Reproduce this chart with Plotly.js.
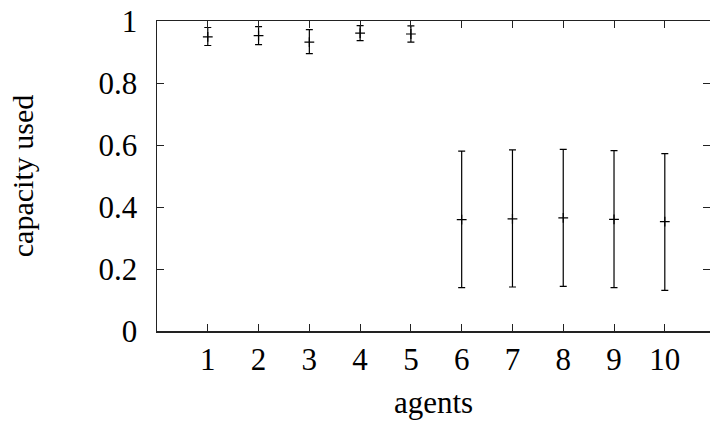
<!DOCTYPE html>
<html>
<head>
<meta charset="utf-8">
<script src="https://cdn.plot.ly/plotly-3.0.1.min.js"></script>
<style>html,body{margin:0;padding:0;background:#fff;}#chart{width:710px;height:422px;}</style>
</head>
<body>
<div id="chart"></div>
<script>
var agents = [1, 2, 3, 4, 5, 6, 7, 8, 9, 10];
var meanUsed = [0.949, 0.953, 0.932, 0.961, 0.958, 0.359, 0.362, 0.365, 0.360, 0.353];
var errUpper = [0.030, 0.029, 0.040, 0.024, 0.026, 0.221, 0.222, 0.221, 0.222, 0.219];
var errLower = [0.028, 0.029, 0.037, 0.024, 0.026, 0.219, 0.220, 0.221, 0.220, 0.222];
var xTicks = [1, 2, 3, 4, 5, 6, 7, 8, 9, 10];
var yTicks = [0, 0.2, 0.4, 0.6, 0.8, 1];

var trace = {
  x: agents,
  y: meanUsed,
  type: 'scatter',
  mode: 'markers',
  marker: {symbol: 'cross-thin', size: 7, color: '#000', line: {color: '#000', width: 1.2}},
  error_y: {type: 'data', symmetric: false, array: errUpper, arrayminus: errLower,
            color: '#000', thickness: 1.2, width: 3.5},
  showlegend: false,
  hoverinfo: 'skip'
};

var fontFam = '"Liberation Serif", "DejaVu Serif", serif';
var layout = {
  width: 710, height: 422,
  margin: {l: 157, r: 0, t: 21, b: 91},
  paper_bgcolor: '#fff', plot_bgcolor: '#fff',
  font: {family: fontFam, size: 31, color: '#000'},
  xaxis: {
    range: [0, 10.89],
    tickvals: xTicks,
    ticktext: xTicks.map(String),
    ticks: 'inside', ticklen: 7, tickwidth: 1, tickcolor: '#222',
    showline: true, linecolor: '#222', linewidth: 1.5, mirror: 'ticks',
    showgrid: false, zeroline: false,
    ticklabelstandoff: 0,
    tickfont: {family: fontFam, size: 31, color: '#000'},
    title: {text: 'agents', font: {family: fontFam, size: 31, color: '#000'}, standoff: 15}
  },
  yaxis: {
    range: [0, 1],
    tickvals: yTicks,
    ticktext: yTicks.map(String),
    ticks: 'inside', ticklen: 7, tickwidth: 1, tickcolor: '#222',
    showline: true, linecolor: '#222', linewidth: 1.5, mirror: 'ticks',
    showgrid: false, zeroline: false,
    ticklabelstandoff: 12,
    tickfont: {family: fontFam, size: 31, color: '#000'},
    title: {text: 'capacity used', font: {family: fontFam, size: 30, color: '#000'}, standoff: 56}
  }
};

Plotly.newPlot('chart', [trace], layout, {displayModeBar: false, staticPlot: true});
</script>
</body>
</html>
